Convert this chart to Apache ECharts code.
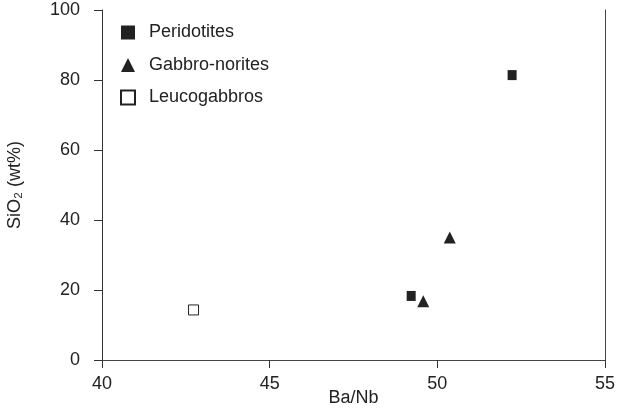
<!DOCTYPE html>
<html>
<head>
<meta charset="utf-8">
<script src="https://cdn.jsdelivr.net/npm/echarts@6/dist/echarts.min.js"></script>
<style>
  html, body { margin: 0; padding: 0; background: #fff; }
  #chart { width: 619px; height: 409px; }
</style>
</head>
<body>
<div id="chart"></div>
<script>
// Ba/Nb vs SiO2 samples, grouped by rock type
const peridotites = [[49.22, 18.3], [52.23, 81.4]];
const gabbroNorites = [[49.58, 16.8], [50.37, 35.0]];
const leucogabbros = [[42.73, 14.3]];

const xTicks = { min: 40, max: 55, interval: 5 };
const yTicks = { min: 0, max: 100, interval: 20 };

const ink = '#222';
const font = 'Liberation Sans, Arial, Helvetica, sans-serif';
const fs = 18;

const chart = echarts.init(document.getElementById('chart'), null, { renderer: 'canvas' });

const frameAxis = {
  show: true,
  axisLine: { show: true, lineStyle: { color: '#444', width: 1 } },
  axisTick: { show: false },
  axisLabel: { show: false },
  splitLine: { show: false }
};

chart.setOption({
  animation: false,
  backgroundColor: '#fff',
  textStyle: { fontFamily: font },
  grid: { left: 102, right: 14, top: 10, bottom: 49, containLabel: false, outerBoundsMode: 'none' },
  legend: {
    orient: 'vertical',
    left: 115,
    top: 18,
    padding: 5,
    itemWidth: 14,
    itemHeight: 14,
    itemGap: 13.5,
    textStyle: { fontSize: fs, color: ink, fontFamily: font, lineHeight: 19, padding: [0, 0, 0, 9] },
    data: [
      { name: 'Peridotites', icon: 'rect' },
      { name: 'Gabbro-norites', icon: 'triangle' },
      { name: 'Leucogabbros', icon: 'rect' }
    ]
  },
  xAxis: [
    {
      type: 'value',
      position: 'bottom',
      min: xTicks.min, max: xTicks.max, interval: xTicks.interval,
      name: 'Ba/Nb',
      nameLocation: 'middle',
      nameGap: 31,
      nameMoveOverlap: false,
      nameTextStyle: { fontSize: fs, color: ink, fontFamily: font, lineHeight: 14 },
      axisLine: { show: true, onZero: false, lineStyle: { color: '#333', width: 1 } },
      axisTick: { show: true, inside: false, length: 8, lineStyle: { color: '#333' } },
      axisLabel: { fontSize: fs, color: ink, margin: 15, fontFamily: font },
      splitLine: { show: false }
    },
    Object.assign({ type: 'value', position: 'top', min: xTicks.min, max: xTicks.max }, frameAxis)
  ],
  yAxis: [
    {
      type: 'value',
      position: 'left',
      min: yTicks.min, max: yTicks.max, interval: yTicks.interval,
      name: 'SiO\u2082 (wt%)',
      nameLocation: 'middle',
      nameRotate: 90,
      nameGap: 78,
      nameMoveOverlap: false,
      nameTextStyle: { fontSize: fs, color: ink, fontFamily: font },
      axisLine: { show: true, onZero: false, lineStyle: { color: '#333', width: 1 } },
      axisTick: { show: true, inside: false, length: 8, lineStyle: { color: '#333' } },
      axisLabel: { fontSize: fs, color: ink, margin: 22, fontFamily: font },
      splitLine: { show: false }
    },
    Object.assign({ type: 'value', position: 'right', min: yTicks.min, max: yTicks.max }, frameAxis)
  ],
  series: [
    {
      name: 'Peridotites',
      type: 'scatter',
      symbol: 'rect',
      symbolSize: [9, 10],
      itemStyle: { color: ink, opacity: 1 },
      data: peridotites
    },
    {
      name: 'Gabbro-norites',
      type: 'scatter',
      symbol: 'triangle',
      symbolSize: 12,
      itemStyle: { color: ink, opacity: 1 },
      data: gabbroNorites
    },
    {
      name: 'Leucogabbros',
      type: 'scatter',
      symbol: 'rect',
      symbolSize: 10,
      itemStyle: { color: '#fff', borderColor: ink, borderWidth: 1, opacity: 1 },
      data: leucogabbros
    }
  ]
});
</script>
</body>
</html>
